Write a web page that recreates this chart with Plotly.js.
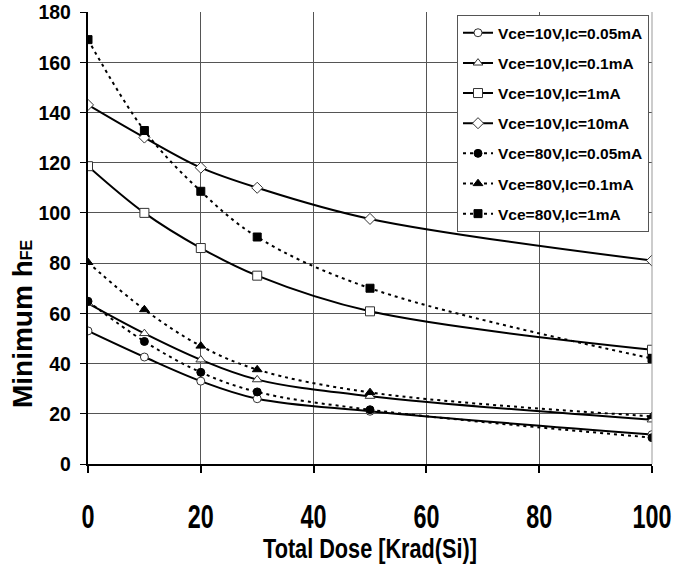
<!DOCTYPE html>
<html>
<head>
<meta charset="utf-8">
<script src="https://cdn.plot.ly/plotly-3.0.1.min.js"></script>
<style>html,body{margin:0;padding:0;background:#fff;}#chart{width:673px;height:571px;}</style>
</head>
<body>
<div id="chart"></div>
<script>
var dose = [0, 10, 20, 30, 50, 100];
var seriesNames = [
  "Vce=10V,Ic=0.05mA",
  "Vce=10V,Ic=0.1mA",
  "Vce=10V,Ic=1mA",
  "Vce=10V,Ic=10mA",
  "Vce=80V,Ic=0.05mA",
  "Vce=80V,Ic=0.1mA",
  "Vce=80V,Ic=1mA"
];
var v10_005 = [53, 42.6, 33, 26, 21, 11.7];
var v10_01  = [64, 52, 41.5, 33.6, 27, 17.6];
var v10_1   = [118.6, 100, 86, 75, 60.8, 45.5];
var v10_10  = [143, 130, 118, 110, 97.6, 81];
var v80_005 = [64.8, 48.8, 36.5, 28.7, 21.6, 10.5];
var v80_01  = [80.3, 61.5, 47, 37.6, 28.5, 19];
var v80_1   = [169, 132.8, 108.6, 90.4, 70, 42];

var xTicks = [0, 20, 40, 60, 80, 100];
var yTicks = [0, 20, 40, 60, 80, 100, 120, 140, 160, 180];
var xTitle = "Total Dose [Krad(Si)]";
var yTitle = "Minimum h<span style=\"font-size:16px\">FE</span>";

var values = [v10_005, v10_01, v10_1, v10_10, v80_005, v80_01, v80_1];
var symbols = ["circle", "triangle-up", "square", "diamond", "circle", "triangle-up", "square"];
var sizes = [8, 8.5, 9, 8.5, 8, 8.5, 8];
var filled = [false, false, false, false, true, true, true];

var traces = values.map(function (v, i) {
  return {
    x: dose, y: v, name: seriesNames[i], type: "scatter", mode: "lines+markers",
    legendgroup: "g" + i,
    line: {color: "#000", width: 2, shape: "spline", dash: filled[i] ? "3px,4px" : "solid"},
    marker: {
      symbol: symbols[i], size: sizes[i],
      color: filled[i] ? "#000" : "#fff",
      line: {color: filled[i] ? "#000" : "#333", width: 1}
    }
  };
});

var FONT = "Liberation Sans, Arial, sans-serif";
var layout = {
  width: 673, height: 571,
  margin: {l: 88, r: 21, t: 12, b: 107},
  paper_bgcolor: "#fff", plot_bgcolor: "#fff",
  font: {family: FONT, color: "#000"},
  showlegend: true,
  legend: {
    x: 0.9947, y: 0.993, xanchor: "right", yanchor: "top",
    bgcolor: "#fff", bordercolor: "#555", borderwidth: 1,
    font: {size: 15.5, weight: "bold", family: FONT},
    traceorder: "grouped", tracegroupgap: 7
  },
  xaxis: {
    range: [0, 100], tickvals: xTicks, ticktext: xTicks.map(String),
    showgrid: true, gridcolor: "#555", gridwidth: 1,
    showline: true, linecolor: "#000", linewidth: 2, mirror: false,
    ticks: "outside", ticklen: 7, tickwidth: 2, tickcolor: "#000",
    tickfont: {size: 24, weight: "bold", family: FONT},
    ticklabelstandoff: 26, ticklabeloverflow: "allow",
    zeroline: false,
    title: {text: xTitle, standoff: 5, font: {size: 28, weight: "bold", family: FONT}}
  },
  yaxis: {
    range: [0, 180], tickvals: yTicks, ticktext: yTicks.map(String),
    showgrid: true, gridcolor: "#555", gridwidth: 1,
    showline: true, linecolor: "#000", linewidth: 2,
    ticks: "outside", ticklen: 6, tickwidth: 1, tickcolor: "#000",
    tickfont: {size: 21, weight: "bold", family: FONT},
    ticklabelstandoff: 5,
    zeroline: false
  },
  annotations: [{
    text: yTitle, textangle: -90, showarrow: false,
    xref: "paper", yref: "paper", x: -0.115, y: 0.31, xanchor: "center", yanchor: "middle",
    font: {size: 28, weight: "bold", family: FONT}
  }],
  shapes: [{type: "line", xref: "paper", yref: "paper", x0: 1, x1: 1, y0: 0, y1: 1,
            line: {color: "#999", width: 1}}]
};

Plotly.newPlot("chart", traces, layout, {displayModeBar: false, staticPlot: true}).then(function (gd) {
  gd.querySelectorAll(".xtick text").forEach(function (t) {
    var n = t.textContent.length;
    t.setAttribute("textLength", 13 * n);
    t.setAttribute("lengthAdjust", "spacingAndGlyphs");
    var x = parseFloat(t.getAttribute("x")) || 0;
    var y = parseFloat(t.getAttribute("y")) || 0;
    var tr = t.getAttribute("transform") || "";
    t.setAttribute("transform", tr + " translate(" + x + "," + y + ") scale(1,1.4) translate(" + (-x) + "," + (-y) + ")");
  });
  gd.querySelectorAll(".ytick text").forEach(function (t) {
    var n = t.textContent.length;
    t.setAttribute("textLength", 10.8 * n);
    t.setAttribute("lengthAdjust", "spacingAndGlyphs");
  });
  var xt = gd.querySelector(".xtitle");
  if (xt) {
    xt.setAttribute("textLength", 214);
    xt.setAttribute("lengthAdjust", "spacingAndGlyphs");
  }
});
</script>
</body>
</html>
